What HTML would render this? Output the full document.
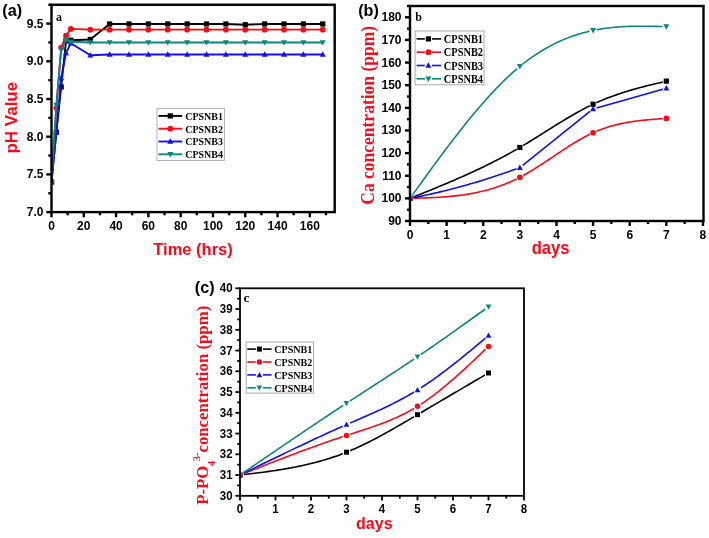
<!DOCTYPE html>
<html><head><meta charset="utf-8"><title>Charts</title>
<style>html,body{margin:0;padding:0;background:#fff;}body{width:709px;height:538px;overflow:hidden;}svg{display:block;will-change:transform;}</style>
</head><body>
<svg width="709" height="538" viewBox="0 0 709 538"><defs><clipPath id="cA"><rect x="51.5" y="4.75" width="283.2" height="207.35"/></clipPath><clipPath id="cB"><rect x="410" y="6" width="293.5" height="215"/></clipPath><mask id="m1" maskUnits="userSpaceOnUse" x="0" y="0" width="709" height="538"><rect width="709" height="538" fill="white"/><circle cx="410" cy="198.37" r="3.6" fill="black"/><circle cx="519.86" cy="147.45" r="3.6" fill="black"/><circle cx="593.09" cy="104.22" r="3.6" fill="black"/><circle cx="666.33" cy="81.14" r="3.6" fill="black"/></mask><mask id="m2" maskUnits="userSpaceOnUse" x="0" y="0" width="709" height="538"><rect width="709" height="538" fill="white"/><circle cx="410" cy="198.37" r="3.6" fill="black"/><circle cx="519.86" cy="177.32" r="3.6" fill="black"/><circle cx="593.09" cy="132.74" r="3.6" fill="black"/><circle cx="666.33" cy="118.48" r="3.6" fill="black"/></mask><mask id="m3" maskUnits="userSpaceOnUse" x="0" y="0" width="709" height="538"><rect width="709" height="538" fill="white"/><circle cx="410" cy="198.37" r="3.6" fill="black"/><circle cx="519.86" cy="167.59" r="3.6" fill="black"/><circle cx="593.09" cy="108.97" r="3.6" fill="black"/><circle cx="666.33" cy="88.15" r="3.6" fill="black"/></mask><mask id="m4" maskUnits="userSpaceOnUse" x="0" y="0" width="709" height="538"><rect width="709" height="538" fill="white"/><circle cx="410" cy="198.37" r="3.6" fill="black"/><circle cx="519.86" cy="66.43" r="3.6" fill="black"/><circle cx="593.09" cy="30.44" r="3.6" fill="black"/><circle cx="666.33" cy="26.59" r="3.6" fill="black"/></mask><clipPath id="cC"><rect x="240" y="288.3" width="284" height="207.5"/></clipPath><mask id="m5" maskUnits="userSpaceOnUse" x="0" y="0" width="709" height="538"><rect width="709" height="538" fill="white"/><circle cx="240" cy="475.05" r="4.0" fill="black"/><circle cx="346.5" cy="452.22" r="4.0" fill="black"/><circle cx="417.5" cy="414.67" r="4.0" fill="black"/><circle cx="488.5" cy="372.96" r="4.0" fill="black"/></mask><mask id="m6" maskUnits="userSpaceOnUse" x="0" y="0" width="709" height="538"><rect width="709" height="538" fill="white"/><circle cx="240" cy="475.05" r="4.0" fill="black"/><circle cx="346.5" cy="435.42" r="4.0" fill="black"/><circle cx="417.5" cy="406.37" r="4.0" fill="black"/><circle cx="488.5" cy="346.4" r="4.0" fill="black"/></mask><mask id="m7" maskUnits="userSpaceOnUse" x="0" y="0" width="709" height="538"><rect width="709" height="538" fill="white"/><circle cx="240" cy="475.05" r="4.0" fill="black"/><circle cx="346.5" cy="424.63" r="4.0" fill="black"/><circle cx="417.5" cy="389.97" r="4.0" fill="black"/><circle cx="488.5" cy="335.61" r="4.0" fill="black"/></mask><mask id="m8" maskUnits="userSpaceOnUse" x="0" y="0" width="709" height="538"><rect width="709" height="538" fill="white"/><circle cx="240" cy="475.05" r="4.0" fill="black"/><circle cx="346.5" cy="403.25" r="4.0" fill="black"/><circle cx="417.5" cy="356.77" r="4.0" fill="black"/><circle cx="488.5" cy="306.77" r="4.0" fill="black"/></mask></defs><line x1="48.3" y1="193.25" x2="51.5" y2="193.25" stroke="#000000" stroke-width="2.4" stroke-linecap="butt"/>
<line x1="48.3" y1="155.55" x2="51.5" y2="155.55" stroke="#000000" stroke-width="2.4" stroke-linecap="butt"/>
<line x1="48.3" y1="117.85" x2="51.5" y2="117.85" stroke="#000000" stroke-width="2.4" stroke-linecap="butt"/>
<line x1="48.3" y1="80.15" x2="51.5" y2="80.15" stroke="#000000" stroke-width="2.4" stroke-linecap="butt"/>
<line x1="48.3" y1="42.45" x2="51.5" y2="42.45" stroke="#000000" stroke-width="2.4" stroke-linecap="butt"/>
<line x1="48.3" y1="4.75" x2="51.5" y2="4.75" stroke="#000000" stroke-width="2.4" stroke-linecap="butt"/>
<line x1="46.3" y1="212.1" x2="51.5" y2="212.1" stroke="#000000" stroke-width="2.4" stroke-linecap="butt"/>
<text transform="translate(43.5,216.1) scale(1,1.07)" font-family="'Liberation Sans', sans-serif" font-size="12" font-weight="bold" fill="#000000" text-anchor="end">7.0</text>
<line x1="46.3" y1="174.4" x2="51.5" y2="174.4" stroke="#000000" stroke-width="2.4" stroke-linecap="butt"/>
<text transform="translate(43.5,178.4) scale(1,1.07)" font-family="'Liberation Sans', sans-serif" font-size="12" font-weight="bold" fill="#000000" text-anchor="end">7.5</text>
<line x1="46.3" y1="136.7" x2="51.5" y2="136.7" stroke="#000000" stroke-width="2.4" stroke-linecap="butt"/>
<text transform="translate(43.5,140.7) scale(1,1.07)" font-family="'Liberation Sans', sans-serif" font-size="12" font-weight="bold" fill="#000000" text-anchor="end">8.0</text>
<line x1="46.3" y1="99" x2="51.5" y2="99" stroke="#000000" stroke-width="2.4" stroke-linecap="butt"/>
<text transform="translate(43.5,103) scale(1,1.07)" font-family="'Liberation Sans', sans-serif" font-size="12" font-weight="bold" fill="#000000" text-anchor="end">8.5</text>
<line x1="46.3" y1="61.3" x2="51.5" y2="61.3" stroke="#000000" stroke-width="2.4" stroke-linecap="butt"/>
<text transform="translate(43.5,65.3) scale(1,1.07)" font-family="'Liberation Sans', sans-serif" font-size="12" font-weight="bold" fill="#000000" text-anchor="end">9.0</text>
<line x1="46.3" y1="23.6" x2="51.5" y2="23.6" stroke="#000000" stroke-width="2.4" stroke-linecap="butt"/>
<text transform="translate(43.5,27.6) scale(1,1.07)" font-family="'Liberation Sans', sans-serif" font-size="12" font-weight="bold" fill="#000000" text-anchor="end">9.5</text>
<line x1="67.65" y1="212.1" x2="67.65" y2="215.3" stroke="#000000" stroke-width="2.4" stroke-linecap="butt"/>
<line x1="99.94" y1="212.1" x2="99.94" y2="215.3" stroke="#000000" stroke-width="2.4" stroke-linecap="butt"/>
<line x1="132.23" y1="212.1" x2="132.23" y2="215.3" stroke="#000000" stroke-width="2.4" stroke-linecap="butt"/>
<line x1="164.52" y1="212.1" x2="164.52" y2="215.3" stroke="#000000" stroke-width="2.4" stroke-linecap="butt"/>
<line x1="196.81" y1="212.1" x2="196.81" y2="215.3" stroke="#000000" stroke-width="2.4" stroke-linecap="butt"/>
<line x1="229.11" y1="212.1" x2="229.11" y2="215.3" stroke="#000000" stroke-width="2.4" stroke-linecap="butt"/>
<line x1="261.4" y1="212.1" x2="261.4" y2="215.3" stroke="#000000" stroke-width="2.4" stroke-linecap="butt"/>
<line x1="293.69" y1="212.1" x2="293.69" y2="215.3" stroke="#000000" stroke-width="2.4" stroke-linecap="butt"/>
<line x1="325.98" y1="212.1" x2="325.98" y2="215.3" stroke="#000000" stroke-width="2.4" stroke-linecap="butt"/>
<line x1="51.5" y1="212.1" x2="51.5" y2="217.3" stroke="#000000" stroke-width="2.4" stroke-linecap="butt"/>
<text transform="translate(51.5,229.6) scale(1,1.07)" font-family="'Liberation Sans', sans-serif" font-size="12" font-weight="bold" fill="#000000" text-anchor="middle">0</text>
<line x1="83.79" y1="212.1" x2="83.79" y2="217.3" stroke="#000000" stroke-width="2.4" stroke-linecap="butt"/>
<text transform="translate(83.79,229.6) scale(1,1.07)" font-family="'Liberation Sans', sans-serif" font-size="12" font-weight="bold" fill="#000000" text-anchor="middle">20</text>
<line x1="116.08" y1="212.1" x2="116.08" y2="217.3" stroke="#000000" stroke-width="2.4" stroke-linecap="butt"/>
<text transform="translate(116.08,229.6) scale(1,1.07)" font-family="'Liberation Sans', sans-serif" font-size="12" font-weight="bold" fill="#000000" text-anchor="middle">40</text>
<line x1="148.38" y1="212.1" x2="148.38" y2="217.3" stroke="#000000" stroke-width="2.4" stroke-linecap="butt"/>
<text transform="translate(148.38,229.6) scale(1,1.07)" font-family="'Liberation Sans', sans-serif" font-size="12" font-weight="bold" fill="#000000" text-anchor="middle">60</text>
<line x1="180.67" y1="212.1" x2="180.67" y2="217.3" stroke="#000000" stroke-width="2.4" stroke-linecap="butt"/>
<text transform="translate(180.67,229.6) scale(1,1.07)" font-family="'Liberation Sans', sans-serif" font-size="12" font-weight="bold" fill="#000000" text-anchor="middle">80</text>
<line x1="212.96" y1="212.1" x2="212.96" y2="217.3" stroke="#000000" stroke-width="2.4" stroke-linecap="butt"/>
<text transform="translate(212.96,229.6) scale(1,1.07)" font-family="'Liberation Sans', sans-serif" font-size="12" font-weight="bold" fill="#000000" text-anchor="middle">100</text>
<line x1="245.25" y1="212.1" x2="245.25" y2="217.3" stroke="#000000" stroke-width="2.4" stroke-linecap="butt"/>
<text transform="translate(245.25,229.6) scale(1,1.07)" font-family="'Liberation Sans', sans-serif" font-size="12" font-weight="bold" fill="#000000" text-anchor="middle">120</text>
<line x1="277.54" y1="212.1" x2="277.54" y2="217.3" stroke="#000000" stroke-width="2.4" stroke-linecap="butt"/>
<text transform="translate(277.54,229.6) scale(1,1.07)" font-family="'Liberation Sans', sans-serif" font-size="12" font-weight="bold" fill="#000000" text-anchor="middle">140</text>
<line x1="309.84" y1="212.1" x2="309.84" y2="217.3" stroke="#000000" stroke-width="2.4" stroke-linecap="butt"/>
<text transform="translate(309.84,229.6) scale(1,1.07)" font-family="'Liberation Sans', sans-serif" font-size="12" font-weight="bold" fill="#000000" text-anchor="middle">160</text>
<g clip-path="url(#cA)">
<path d="M51.5,181.94L56.34,132.18L61.19,86.94L66.03,40.94L70.88,40.19L90.25,39.43L109.63,23.98L129,23.98L148.38,23.98L167.75,23.98L187.13,23.98L206.5,23.98L225.88,23.98L245.25,24.73L264.63,23.98L284,23.98L303.38,23.98L322.75,23.98" fill="none" stroke="#000000" stroke-width="1.9" stroke-linejoin="round"/>
<rect x="48.9" y="179.34" width="5.2" height="5.2" fill="#000000"/>
<rect x="53.74" y="129.58" width="5.2" height="5.2" fill="#000000"/>
<rect x="58.59" y="84.34" width="5.2" height="5.2" fill="#000000"/>
<rect x="63.43" y="38.34" width="5.2" height="5.2" fill="#000000"/>
<rect x="68.28" y="37.59" width="5.2" height="5.2" fill="#000000"/>
<rect x="87.65" y="36.83" width="5.2" height="5.2" fill="#000000"/>
<rect x="107.03" y="21.38" width="5.2" height="5.2" fill="#000000"/>
<rect x="126.4" y="21.38" width="5.2" height="5.2" fill="#000000"/>
<rect x="145.78" y="21.38" width="5.2" height="5.2" fill="#000000"/>
<rect x="165.15" y="21.38" width="5.2" height="5.2" fill="#000000"/>
<rect x="184.53" y="21.38" width="5.2" height="5.2" fill="#000000"/>
<rect x="203.9" y="21.38" width="5.2" height="5.2" fill="#000000"/>
<rect x="223.28" y="21.38" width="5.2" height="5.2" fill="#000000"/>
<rect x="242.65" y="22.13" width="5.2" height="5.2" fill="#000000"/>
<rect x="262.03" y="21.38" width="5.2" height="5.2" fill="#000000"/>
<rect x="281.4" y="21.38" width="5.2" height="5.2" fill="#000000"/>
<rect x="300.78" y="21.38" width="5.2" height="5.2" fill="#000000"/>
<rect x="320.15" y="21.38" width="5.2" height="5.2" fill="#000000"/>
<path d="M51.5,181.94L56.34,108.05L61.19,47.73L66.03,35.66L70.88,28.88L90.25,29.63L109.63,29.63L129,29.63L148.38,29.63L167.75,29.63L187.13,29.63L206.5,29.63L225.88,29.63L245.25,29.63L264.63,29.63L284,29.63L303.38,29.63L322.75,29.63" fill="none" stroke="#f80a16" stroke-width="1.9" stroke-linejoin="round"/>
<circle cx="51.5" cy="181.94" r="2.86" fill="#f80a16"/>
<circle cx="56.34" cy="108.05" r="2.86" fill="#f80a16"/>
<circle cx="61.19" cy="47.73" r="2.86" fill="#f80a16"/>
<circle cx="66.03" cy="35.66" r="2.86" fill="#f80a16"/>
<circle cx="70.88" cy="28.88" r="2.86" fill="#f80a16"/>
<circle cx="90.25" cy="29.63" r="2.86" fill="#f80a16"/>
<circle cx="109.63" cy="29.63" r="2.86" fill="#f80a16"/>
<circle cx="129" cy="29.63" r="2.86" fill="#f80a16"/>
<circle cx="148.38" cy="29.63" r="2.86" fill="#f80a16"/>
<circle cx="167.75" cy="29.63" r="2.86" fill="#f80a16"/>
<circle cx="187.13" cy="29.63" r="2.86" fill="#f80a16"/>
<circle cx="206.5" cy="29.63" r="2.86" fill="#f80a16"/>
<circle cx="225.88" cy="29.63" r="2.86" fill="#f80a16"/>
<circle cx="245.25" cy="29.63" r="2.86" fill="#f80a16"/>
<circle cx="264.63" cy="29.63" r="2.86" fill="#f80a16"/>
<circle cx="284" cy="29.63" r="2.86" fill="#f80a16"/>
<circle cx="303.38" cy="29.63" r="2.86" fill="#f80a16"/>
<circle cx="322.75" cy="29.63" r="2.86" fill="#f80a16"/>
<path d="M51.5,181.94L56.34,132.18L61.19,77.89L66.03,53.01L70.88,43.2L90.25,55.27L109.63,54.51L129,54.51L148.38,54.51L167.75,54.51L187.13,54.51L206.5,54.51L225.88,54.51L245.25,54.51L264.63,54.51L284,54.51L303.38,54.51L322.75,54.51" fill="none" stroke="#1010ee" stroke-width="1.9" stroke-linejoin="round"/>
<path d="M51.5,178.8L54.49,184.26L48.51,184.26Z" fill="#1010ee"/>
<path d="M56.34,129.04L59.33,134.5L53.35,134.5Z" fill="#1010ee"/>
<path d="M61.19,74.75L64.18,80.21L58.2,80.21Z" fill="#1010ee"/>
<path d="M66.03,49.87L69.02,55.33L63.04,55.33Z" fill="#1010ee"/>
<path d="M70.88,40.06L73.87,45.52L67.89,45.52Z" fill="#1010ee"/>
<path d="M90.25,52.13L93.24,57.59L87.26,57.59Z" fill="#1010ee"/>
<path d="M109.63,51.37L112.62,56.83L106.64,56.83Z" fill="#1010ee"/>
<path d="M129,51.37L131.99,56.83L126.01,56.83Z" fill="#1010ee"/>
<path d="M148.38,51.37L151.37,56.83L145.39,56.83Z" fill="#1010ee"/>
<path d="M167.75,51.37L170.74,56.83L164.76,56.83Z" fill="#1010ee"/>
<path d="M187.13,51.37L190.12,56.83L184.14,56.83Z" fill="#1010ee"/>
<path d="M206.5,51.37L209.49,56.83L203.51,56.83Z" fill="#1010ee"/>
<path d="M225.88,51.37L228.87,56.83L222.89,56.83Z" fill="#1010ee"/>
<path d="M245.25,51.37L248.24,56.83L242.26,56.83Z" fill="#1010ee"/>
<path d="M264.63,51.37L267.62,56.83L261.64,56.83Z" fill="#1010ee"/>
<path d="M284,51.37L286.99,56.83L281.01,56.83Z" fill="#1010ee"/>
<path d="M303.38,51.37L306.37,56.83L300.39,56.83Z" fill="#1010ee"/>
<path d="M322.75,51.37L325.74,56.83L319.76,56.83Z" fill="#1010ee"/>
<path d="M51.5,181.94L56.34,105.03L61.19,49.24L66.03,40.19L70.88,41.7L90.25,42.45L109.63,42.45L129,42.45L148.38,42.45L167.75,42.45L187.13,42.45L206.5,42.45L225.88,42.45L245.25,42.45L264.63,42.45L284,42.45L303.38,42.45L322.75,42.45" fill="none" stroke="#0a8582" stroke-width="1.9" stroke-linejoin="round"/>
<path d="M51.5,185.08L54.49,179.62L48.51,179.62Z" fill="#0a8582"/>
<path d="M56.34,108.17L59.33,102.71L53.35,102.71Z" fill="#0a8582"/>
<path d="M61.19,52.38L64.18,46.92L58.2,46.92Z" fill="#0a8582"/>
<path d="M66.03,43.33L69.02,37.87L63.04,37.87Z" fill="#0a8582"/>
<path d="M70.88,44.84L73.87,39.38L67.89,39.38Z" fill="#0a8582"/>
<path d="M90.25,45.59L93.24,40.13L87.26,40.13Z" fill="#0a8582"/>
<path d="M109.63,45.59L112.62,40.13L106.64,40.13Z" fill="#0a8582"/>
<path d="M129,45.59L131.99,40.13L126.01,40.13Z" fill="#0a8582"/>
<path d="M148.38,45.59L151.37,40.13L145.39,40.13Z" fill="#0a8582"/>
<path d="M167.75,45.59L170.74,40.13L164.76,40.13Z" fill="#0a8582"/>
<path d="M187.13,45.59L190.12,40.13L184.14,40.13Z" fill="#0a8582"/>
<path d="M206.5,45.59L209.49,40.13L203.51,40.13Z" fill="#0a8582"/>
<path d="M225.88,45.59L228.87,40.13L222.89,40.13Z" fill="#0a8582"/>
<path d="M245.25,45.59L248.24,40.13L242.26,40.13Z" fill="#0a8582"/>
<path d="M264.63,45.59L267.62,40.13L261.64,40.13Z" fill="#0a8582"/>
<path d="M284,45.59L286.99,40.13L281.01,40.13Z" fill="#0a8582"/>
<path d="M303.38,45.59L306.37,40.13L300.39,40.13Z" fill="#0a8582"/>
<path d="M322.75,45.59L325.74,40.13L319.76,40.13Z" fill="#0a8582"/>
</g>
<rect x="157" y="108.6" width="67.5" height="51.9" fill="white" stroke="#a8a8b8" stroke-width="0.9"/>
<line x1="158.5" y1="115.9" x2="182.2" y2="115.9" stroke="#000000" stroke-width="1.9" stroke-linecap="butt"/>
<rect x="167.7" y="113.3" width="5.2" height="5.2" fill="#000000"/>
<text transform="translate(185.2,119.72) scale(1,1.06)" font-family="'Liberation Serif', serif" font-size="10" font-weight="bold" fill="#000000" text-anchor="start">CPSNB1</text>
<line x1="158.5" y1="128.7" x2="182.2" y2="128.7" stroke="#f80a16" stroke-width="1.9" stroke-linecap="butt"/>
<circle cx="170.3" cy="128.7" r="2.86" fill="#f80a16"/>
<text transform="translate(185.2,132.52) scale(1,1.06)" font-family="'Liberation Serif', serif" font-size="10" font-weight="bold" fill="#000000" text-anchor="start">CPSNB2</text>
<line x1="158.5" y1="141.5" x2="182.2" y2="141.5" stroke="#1010ee" stroke-width="1.9" stroke-linecap="butt"/>
<path d="M170.3,138.36L173.29,143.82L167.31,143.82Z" fill="#1010ee"/>
<text transform="translate(185.2,145.32) scale(1,1.06)" font-family="'Liberation Serif', serif" font-size="10" font-weight="bold" fill="#000000" text-anchor="start">CPSNB3</text>
<line x1="158.5" y1="154.3" x2="182.2" y2="154.3" stroke="#0a8582" stroke-width="1.9" stroke-linecap="butt"/>
<path d="M170.3,157.44L173.29,151.98L167.31,151.98Z" fill="#0a8582"/>
<text transform="translate(185.2,158.12) scale(1,1.06)" font-family="'Liberation Serif', serif" font-size="10" font-weight="bold" fill="#000000" text-anchor="start">CPSNB4</text>
<rect x="51.5" y="4.75" width="283.2" height="207.35" fill="none" stroke="#000000" stroke-width="2.4" stroke-linejoin="miter"/>
<text x="56" y="20.8" font-family="'Liberation Serif', serif" font-size="12" font-weight="bold" fill="#000000" text-anchor="start" >a</text>
<text x="193" y="254.9" font-family="'Liberation Sans', sans-serif" font-size="16.5" font-weight="bold" fill="#f80a16" text-anchor="middle" >Time (hrs)</text>
<text x="0" y="0" font-family="'Liberation Sans', sans-serif" font-size="17" font-weight="bold" fill="#f80a16" text-anchor="middle" transform="translate(17.3,117.7) rotate(-90)">pH Value</text>
<text transform="translate(2.3,15.5) " font-family="'Liberation Sans', sans-serif" font-size="16.2" font-weight="bold" fill="#000">(a)</text>
<line x1="407" y1="209.68" x2="410" y2="209.68" stroke="#000000" stroke-width="2.4" stroke-linecap="butt"/>
<line x1="407" y1="187.05" x2="410" y2="187.05" stroke="#000000" stroke-width="2.4" stroke-linecap="butt"/>
<line x1="407" y1="164.42" x2="410" y2="164.42" stroke="#000000" stroke-width="2.4" stroke-linecap="butt"/>
<line x1="407" y1="141.79" x2="410" y2="141.79" stroke="#000000" stroke-width="2.4" stroke-linecap="butt"/>
<line x1="407" y1="119.16" x2="410" y2="119.16" stroke="#000000" stroke-width="2.4" stroke-linecap="butt"/>
<line x1="407" y1="96.53" x2="410" y2="96.53" stroke="#000000" stroke-width="2.4" stroke-linecap="butt"/>
<line x1="407" y1="73.89" x2="410" y2="73.89" stroke="#000000" stroke-width="2.4" stroke-linecap="butt"/>
<line x1="407" y1="51.26" x2="410" y2="51.26" stroke="#000000" stroke-width="2.4" stroke-linecap="butt"/>
<line x1="407" y1="28.63" x2="410" y2="28.63" stroke="#000000" stroke-width="2.4" stroke-linecap="butt"/>
<line x1="407" y1="6" x2="410" y2="6" stroke="#000000" stroke-width="2.4" stroke-linecap="butt"/>
<line x1="405" y1="221" x2="410" y2="221" stroke="#000000" stroke-width="2.4" stroke-linecap="butt"/>
<text transform="translate(401.5,225) scale(1,1.07)" font-family="'Liberation Sans', sans-serif" font-size="12" font-weight="bold" fill="#000000" text-anchor="end">90</text>
<line x1="405" y1="198.37" x2="410" y2="198.37" stroke="#000000" stroke-width="2.4" stroke-linecap="butt"/>
<text transform="translate(401.5,202.37) scale(1,1.07)" font-family="'Liberation Sans', sans-serif" font-size="12" font-weight="bold" fill="#000000" text-anchor="end">100</text>
<line x1="405" y1="175.74" x2="410" y2="175.74" stroke="#000000" stroke-width="2.4" stroke-linecap="butt"/>
<text transform="translate(401.5,179.74) scale(1,1.07)" font-family="'Liberation Sans', sans-serif" font-size="12" font-weight="bold" fill="#000000" text-anchor="end">110</text>
<line x1="405" y1="153.11" x2="410" y2="153.11" stroke="#000000" stroke-width="2.4" stroke-linecap="butt"/>
<text transform="translate(401.5,157.11) scale(1,1.07)" font-family="'Liberation Sans', sans-serif" font-size="12" font-weight="bold" fill="#000000" text-anchor="end">120</text>
<line x1="405" y1="130.47" x2="410" y2="130.47" stroke="#000000" stroke-width="2.4" stroke-linecap="butt"/>
<text transform="translate(401.5,134.47) scale(1,1.07)" font-family="'Liberation Sans', sans-serif" font-size="12" font-weight="bold" fill="#000000" text-anchor="end">130</text>
<line x1="405" y1="107.84" x2="410" y2="107.84" stroke="#000000" stroke-width="2.4" stroke-linecap="butt"/>
<text transform="translate(401.5,111.84) scale(1,1.07)" font-family="'Liberation Sans', sans-serif" font-size="12" font-weight="bold" fill="#000000" text-anchor="end">140</text>
<line x1="405" y1="85.21" x2="410" y2="85.21" stroke="#000000" stroke-width="2.4" stroke-linecap="butt"/>
<text transform="translate(401.5,89.21) scale(1,1.07)" font-family="'Liberation Sans', sans-serif" font-size="12" font-weight="bold" fill="#000000" text-anchor="end">150</text>
<line x1="405" y1="62.58" x2="410" y2="62.58" stroke="#000000" stroke-width="2.4" stroke-linecap="butt"/>
<text transform="translate(401.5,66.58) scale(1,1.07)" font-family="'Liberation Sans', sans-serif" font-size="12" font-weight="bold" fill="#000000" text-anchor="end">160</text>
<line x1="405" y1="39.95" x2="410" y2="39.95" stroke="#000000" stroke-width="2.4" stroke-linecap="butt"/>
<text transform="translate(401.5,43.95) scale(1,1.07)" font-family="'Liberation Sans', sans-serif" font-size="12" font-weight="bold" fill="#000000" text-anchor="end">170</text>
<line x1="405" y1="17.32" x2="410" y2="17.32" stroke="#000000" stroke-width="2.4" stroke-linecap="butt"/>
<text transform="translate(401.5,21.32) scale(1,1.07)" font-family="'Liberation Sans', sans-serif" font-size="12" font-weight="bold" fill="#000000" text-anchor="end">180</text>
<line x1="428.31" y1="221" x2="428.31" y2="224" stroke="#000000" stroke-width="2.4" stroke-linecap="butt"/>
<line x1="464.93" y1="221" x2="464.93" y2="224" stroke="#000000" stroke-width="2.4" stroke-linecap="butt"/>
<line x1="501.55" y1="221" x2="501.55" y2="224" stroke="#000000" stroke-width="2.4" stroke-linecap="butt"/>
<line x1="538.17" y1="221" x2="538.17" y2="224" stroke="#000000" stroke-width="2.4" stroke-linecap="butt"/>
<line x1="574.78" y1="221" x2="574.78" y2="224" stroke="#000000" stroke-width="2.4" stroke-linecap="butt"/>
<line x1="611.4" y1="221" x2="611.4" y2="224" stroke="#000000" stroke-width="2.4" stroke-linecap="butt"/>
<line x1="648.02" y1="221" x2="648.02" y2="224" stroke="#000000" stroke-width="2.4" stroke-linecap="butt"/>
<line x1="684.64" y1="221" x2="684.64" y2="224" stroke="#000000" stroke-width="2.4" stroke-linecap="butt"/>
<line x1="410" y1="221" x2="410" y2="226" stroke="#000000" stroke-width="2.4" stroke-linecap="butt"/>
<text transform="translate(410,238.8) scale(1,1.07)" font-family="'Liberation Sans', sans-serif" font-size="12" font-weight="bold" fill="#000000" text-anchor="middle">0</text>
<line x1="446.62" y1="221" x2="446.62" y2="226" stroke="#000000" stroke-width="2.4" stroke-linecap="butt"/>
<text transform="translate(446.62,238.8) scale(1,1.07)" font-family="'Liberation Sans', sans-serif" font-size="12" font-weight="bold" fill="#000000" text-anchor="middle">1</text>
<line x1="483.24" y1="221" x2="483.24" y2="226" stroke="#000000" stroke-width="2.4" stroke-linecap="butt"/>
<text transform="translate(483.24,238.8) scale(1,1.07)" font-family="'Liberation Sans', sans-serif" font-size="12" font-weight="bold" fill="#000000" text-anchor="middle">2</text>
<line x1="519.86" y1="221" x2="519.86" y2="226" stroke="#000000" stroke-width="2.4" stroke-linecap="butt"/>
<text transform="translate(519.86,238.8) scale(1,1.07)" font-family="'Liberation Sans', sans-serif" font-size="12" font-weight="bold" fill="#000000" text-anchor="middle">3</text>
<line x1="556.48" y1="221" x2="556.48" y2="226" stroke="#000000" stroke-width="2.4" stroke-linecap="butt"/>
<text transform="translate(556.48,238.8) scale(1,1.07)" font-family="'Liberation Sans', sans-serif" font-size="12" font-weight="bold" fill="#000000" text-anchor="middle">4</text>
<line x1="593.09" y1="221" x2="593.09" y2="226" stroke="#000000" stroke-width="2.4" stroke-linecap="butt"/>
<text transform="translate(593.09,238.8) scale(1,1.07)" font-family="'Liberation Sans', sans-serif" font-size="12" font-weight="bold" fill="#000000" text-anchor="middle">5</text>
<line x1="629.71" y1="221" x2="629.71" y2="226" stroke="#000000" stroke-width="2.4" stroke-linecap="butt"/>
<text transform="translate(629.71,238.8) scale(1,1.07)" font-family="'Liberation Sans', sans-serif" font-size="12" font-weight="bold" fill="#000000" text-anchor="middle">6</text>
<line x1="666.33" y1="221" x2="666.33" y2="226" stroke="#000000" stroke-width="2.4" stroke-linecap="butt"/>
<text transform="translate(666.33,238.8) scale(1,1.07)" font-family="'Liberation Sans', sans-serif" font-size="12" font-weight="bold" fill="#000000" text-anchor="middle">7</text>
<line x1="702.95" y1="221" x2="702.95" y2="226" stroke="#000000" stroke-width="2.4" stroke-linecap="butt"/>
<text transform="translate(702.95,238.8) scale(1,1.07)" font-family="'Liberation Sans', sans-serif" font-size="12" font-weight="bold" fill="#000000" text-anchor="middle">8</text>
<g clip-path="url(#cB)">
<path d="M410,198.37L412.15,197.5L414.31,196.64L416.46,195.77L418.62,194.9L420.77,194.03L422.92,193.16L425.08,192.29L427.23,191.42L429.39,190.54L431.54,189.66L433.69,188.78L435.85,187.89L438,187L440.16,186.11L442.31,185.21L444.46,184.31L446.62,183.4L448.77,182.49L450.93,181.57L453.08,180.65L455.24,179.72L457.39,178.78L459.54,177.84L461.7,176.89L463.85,175.93L466.01,174.97L468.16,173.99L470.31,173.01L472.47,172.02L474.62,171.02L476.78,170.02L478.93,169L481.08,167.97L483.24,166.93L485.39,165.88L487.55,164.83L489.7,163.76L491.85,162.67L494.01,161.58L496.16,160.48L498.32,159.36L500.47,158.23L502.62,157.09L504.78,155.93L506.93,154.76L509.09,153.58L511.24,152.38L513.39,151.17L515.55,149.95L517.7,148.7L519.86,147.45L522.01,146.18L524.16,144.89L526.32,143.59L528.47,142.28L530.63,140.96L532.78,139.63L534.93,138.29L537.09,136.95L539.24,135.6L541.4,134.25L543.55,132.89L545.71,131.54L547.86,130.18L550.01,128.83L552.17,127.48L554.32,126.13L556.48,124.79L558.63,123.46L560.78,122.14L562.94,120.82L565.09,119.52L567.25,118.23L569.4,116.95L571.55,115.69L573.71,114.45L575.86,113.22L578.02,112.02L580.17,110.83L582.32,109.67L584.48,108.52L586.63,107.41L588.79,106.32L590.94,105.26L593.09,104.22L595.25,103.22L597.4,102.24L599.56,101.29L601.71,100.37L603.86,99.48L606.02,98.61L608.17,97.77L610.33,96.95L612.48,96.16L614.63,95.38L616.79,94.63L618.94,93.9L621.1,93.18L623.25,92.49L625.4,91.81L627.56,91.15L629.71,90.51L631.87,89.88L634.02,89.26L636.18,88.66L638.33,88.07L640.48,87.5L642.64,86.93L644.79,86.37L646.95,85.82L649.1,85.28L651.25,84.75L653.41,84.22L655.56,83.7L657.72,83.18L659.87,82.67L662.02,82.16L664.18,81.65L666.33,81.14" fill="none" stroke="#000000" stroke-width="1.6" stroke-linejoin="round" mask="url(#m1)"/>
<rect x="407.4" y="195.77" width="5.2" height="5.2" fill="#000000"/>
<rect x="517.26" y="144.85" width="5.2" height="5.2" fill="#000000"/>
<rect x="590.49" y="101.62" width="5.2" height="5.2" fill="#000000"/>
<rect x="663.73" y="78.54" width="5.2" height="5.2" fill="#000000"/>
<path d="M410,198.37L412.15,198.31L414.31,198.25L416.46,198.19L418.62,198.13L420.77,198.06L422.92,197.99L425.08,197.91L427.23,197.83L429.39,197.74L431.54,197.65L433.69,197.54L435.85,197.43L438,197.31L440.16,197.18L442.31,197.03L444.46,196.87L446.62,196.7L448.77,196.52L450.93,196.32L453.08,196.11L455.24,195.88L457.39,195.63L459.54,195.37L461.7,195.08L463.85,194.78L466.01,194.45L468.16,194.11L470.31,193.74L472.47,193.35L474.62,192.94L476.78,192.5L478.93,192.03L481.08,191.54L483.24,191.03L485.39,190.48L487.55,189.91L489.7,189.31L491.85,188.67L494.01,188.01L496.16,187.31L498.32,186.58L500.47,185.82L502.62,185.03L504.78,184.19L506.93,183.33L509.09,182.42L511.24,181.48L513.39,180.5L515.55,179.48L517.7,178.42L519.86,177.32L522.01,176.18L524.16,175L526.32,173.78L528.47,172.53L530.63,171.25L532.78,169.94L534.93,168.61L537.09,167.25L539.24,165.87L541.4,164.48L543.55,163.06L545.71,161.64L547.86,160.21L550.01,158.77L552.17,157.33L554.32,155.89L556.48,154.44L558.63,153.01L560.78,151.57L562.94,150.15L565.09,148.74L567.25,147.35L569.4,145.97L571.55,144.61L573.71,143.28L575.86,141.97L578.02,140.69L580.17,139.44L582.32,138.22L584.48,137.04L586.63,135.9L588.79,134.8L590.94,133.74L593.09,132.74L595.25,131.78L597.4,130.87L599.56,130L601.71,129.19L603.86,128.41L606.02,127.68L608.17,126.99L610.33,126.34L612.48,125.72L614.63,125.15L616.79,124.61L618.94,124.1L621.1,123.62L623.25,123.18L625.4,122.76L627.56,122.37L629.71,122.01L631.87,121.68L634.02,121.36L636.18,121.07L638.33,120.8L640.48,120.55L642.64,120.31L644.79,120.1L646.95,119.89L649.1,119.7L651.25,119.52L653.41,119.36L655.56,119.2L657.72,119.04L659.87,118.9L662.02,118.76L664.18,118.62L666.33,118.48" fill="none" stroke="#f80a16" stroke-width="1.6" stroke-linejoin="round" mask="url(#m2)"/>
<circle cx="410" cy="198.37" r="2.86" fill="#f80a16"/>
<circle cx="519.86" cy="177.32" r="2.86" fill="#f80a16"/>
<circle cx="593.09" cy="132.74" r="2.86" fill="#f80a16"/>
<circle cx="666.33" cy="118.48" r="2.86" fill="#f80a16"/>
<path d="M410,198.37L413.79,197.64L417.58,196.89L421.36,196.11L425.15,195.31L428.94,194.48L432.73,193.63L436.52,192.76L440.31,191.87L444.09,190.95L447.88,190L451.67,189.04L455.46,188.05L459.25,187.03L463.03,186L466.82,184.93L470.61,183.85L474.4,182.74L478.19,181.61L481.97,180.45L485.76,179.27L489.55,178.07L493.34,176.84L497.13,175.59L500.92,174.32L504.7,173.02L508.49,171.7L512.28,170.35L516.07,168.98L519.86,167.59L593.09,108.97L666.33,88.15" fill="none" stroke="#1010ee" stroke-width="1.6" stroke-linejoin="round" mask="url(#m3)"/>
<path d="M410,195.23L412.99,200.69L407.01,200.69Z" fill="#1010ee"/>
<path d="M519.86,164.45L522.85,169.91L516.87,169.91Z" fill="#1010ee"/>
<path d="M593.09,105.83L596.08,111.29L590.1,111.29Z" fill="#1010ee"/>
<path d="M666.33,85.01L669.32,90.47L663.34,90.47Z" fill="#1010ee"/>
<path d="M410,198.37L412.15,195.37L414.31,192.38L416.46,189.39L418.62,186.4L420.77,183.41L422.92,180.43L425.08,177.46L427.23,174.49L429.39,171.53L431.54,168.57L433.69,165.63L435.85,162.7L438,159.78L440.16,156.87L442.31,153.97L444.46,151.09L446.62,148.22L448.77,145.37L450.93,142.54L453.08,139.72L455.24,136.92L457.39,134.14L459.54,131.39L461.7,128.65L463.85,125.94L466.01,123.25L468.16,120.59L470.31,117.95L472.47,115.33L474.62,112.75L476.78,110.19L478.93,107.66L481.08,105.16L483.24,102.7L485.39,100.26L487.55,97.86L489.7,95.49L491.85,93.16L494.01,90.86L496.16,88.6L498.32,86.38L500.47,84.19L502.62,82.05L504.78,79.94L506.93,77.88L509.09,75.86L511.24,73.88L513.39,71.95L515.55,70.06L517.7,68.22L519.86,66.43L522.01,64.68L524.16,62.98L526.32,61.33L528.47,59.72L530.63,58.16L532.78,56.65L534.93,55.18L537.09,53.75L539.24,52.37L541.4,51.03L543.55,49.73L545.71,48.48L547.86,47.27L550.01,46.09L552.17,44.96L554.32,43.87L556.48,42.82L558.63,41.81L560.78,40.83L562.94,39.89L565.09,38.99L567.25,38.13L569.4,37.31L571.55,36.51L573.71,35.76L575.86,35.04L578.02,34.35L580.17,33.69L582.32,33.07L584.48,32.48L586.63,31.93L588.79,31.4L590.94,30.91L593.09,30.44L595.25,30.01L597.4,29.6L599.56,29.22L601.71,28.87L603.86,28.55L606.02,28.25L608.17,27.97L610.33,27.72L612.48,27.49L614.63,27.28L616.79,27.1L618.94,26.93L621.1,26.79L623.25,26.66L625.4,26.55L627.56,26.45L629.71,26.37L631.87,26.31L634.02,26.26L636.18,26.22L638.33,26.2L640.48,26.18L642.64,26.18L644.79,26.19L646.95,26.2L649.1,26.23L651.25,26.26L653.41,26.3L655.56,26.34L657.72,26.38L659.87,26.43L662.02,26.49L664.18,26.54L666.33,26.59" fill="none" stroke="#0a8582" stroke-width="1.6" stroke-linejoin="round" mask="url(#m4)"/>
<path d="M410,201.51L412.99,196.05L407.01,196.05Z" fill="#0a8582"/>
<path d="M519.86,69.57L522.85,64.11L516.87,64.11Z" fill="#0a8582"/>
<path d="M593.09,33.58L596.08,28.12L590.1,28.12Z" fill="#0a8582"/>
<path d="M666.33,29.73L669.32,24.27L663.34,24.27Z" fill="#0a8582"/>
</g>
<rect x="415.1" y="31" width="68.9" height="53.8" fill="white" stroke="#a0a0a0" stroke-width="0.9"/>
<line x1="416.6" y1="38.9" x2="424.8" y2="38.9" stroke="#000000" stroke-width="1.6" stroke-linecap="butt"/>
<line x1="432" y1="38.9" x2="441.2" y2="38.9" stroke="#000000" stroke-width="1.6" stroke-linecap="butt"/>
<rect x="425.8" y="36.3" width="5.2" height="5.2" fill="#000000"/>
<text transform="translate(443.8,43.02) scale(1,1.1)" font-family="'Liberation Serif', serif" font-size="10.4" font-weight="bold" fill="#000000" text-anchor="start">CPSNB1</text>
<line x1="416.6" y1="52.2" x2="424.8" y2="52.2" stroke="#f80a16" stroke-width="1.6" stroke-linecap="butt"/>
<line x1="432" y1="52.2" x2="441.2" y2="52.2" stroke="#f80a16" stroke-width="1.6" stroke-linecap="butt"/>
<circle cx="428.4" cy="52.2" r="2.86" fill="#f80a16"/>
<text transform="translate(443.8,56.32) scale(1,1.1)" font-family="'Liberation Serif', serif" font-size="10.4" font-weight="bold" fill="#000000" text-anchor="start">CPSNB2</text>
<line x1="416.6" y1="65.5" x2="424.8" y2="65.5" stroke="#1010ee" stroke-width="1.6" stroke-linecap="butt"/>
<line x1="432" y1="65.5" x2="441.2" y2="65.5" stroke="#1010ee" stroke-width="1.6" stroke-linecap="butt"/>
<path d="M428.4,62.36L431.39,67.82L425.41,67.82Z" fill="#1010ee"/>
<text transform="translate(443.8,69.62) scale(1,1.1)" font-family="'Liberation Serif', serif" font-size="10.4" font-weight="bold" fill="#000000" text-anchor="start">CPSNB3</text>
<line x1="416.6" y1="78.8" x2="424.8" y2="78.8" stroke="#0a8582" stroke-width="1.6" stroke-linecap="butt"/>
<line x1="432" y1="78.8" x2="441.2" y2="78.8" stroke="#0a8582" stroke-width="1.6" stroke-linecap="butt"/>
<path d="M428.4,81.94L431.39,76.48L425.41,76.48Z" fill="#0a8582"/>
<text transform="translate(443.8,82.92) scale(1,1.1)" font-family="'Liberation Serif', serif" font-size="10.4" font-weight="bold" fill="#000000" text-anchor="start">CPSNB4</text>
<rect x="410" y="6" width="293.5" height="215" fill="none" stroke="#000000" stroke-width="2.4" stroke-linejoin="miter"/>
<text x="415.3" y="20.8" font-family="'Liberation Serif', serif" font-size="12" font-weight="bold" fill="#000000" text-anchor="start" >b</text>
<text transform="translate(550.6,253.8) scale(1,1.06)" font-family="'Liberation Sans', sans-serif" font-size="16.6" font-weight="bold" fill="#f80a16" text-anchor="middle">days</text>
<text x="0" y="0" font-family="'Liberation Serif', serif" font-size="17.5" font-weight="bold" fill="#f80a16" text-anchor="middle" transform="translate(373.7,115.3) rotate(-90) scale(1,1.05)">Ca concentration (ppm)</text>
<text transform="translate(358.2,15.5) " font-family="'Liberation Sans', sans-serif" font-size="16.2" font-weight="bold" fill="#000">(b)</text>
<line x1="237.2" y1="485.43" x2="240" y2="485.43" stroke="#000000" stroke-width="1.8" stroke-linecap="butt"/>
<line x1="237.2" y1="464.68" x2="240" y2="464.68" stroke="#000000" stroke-width="1.8" stroke-linecap="butt"/>
<line x1="237.2" y1="443.93" x2="240" y2="443.93" stroke="#000000" stroke-width="1.8" stroke-linecap="butt"/>
<line x1="237.2" y1="423.18" x2="240" y2="423.18" stroke="#000000" stroke-width="1.8" stroke-linecap="butt"/>
<line x1="237.2" y1="402.43" x2="240" y2="402.43" stroke="#000000" stroke-width="1.8" stroke-linecap="butt"/>
<line x1="237.2" y1="381.68" x2="240" y2="381.68" stroke="#000000" stroke-width="1.8" stroke-linecap="butt"/>
<line x1="237.2" y1="360.93" x2="240" y2="360.93" stroke="#000000" stroke-width="1.8" stroke-linecap="butt"/>
<line x1="237.2" y1="340.18" x2="240" y2="340.18" stroke="#000000" stroke-width="1.8" stroke-linecap="butt"/>
<line x1="237.2" y1="319.43" x2="240" y2="319.43" stroke="#000000" stroke-width="1.8" stroke-linecap="butt"/>
<line x1="237.2" y1="298.68" x2="240" y2="298.68" stroke="#000000" stroke-width="1.8" stroke-linecap="butt"/>
<line x1="235.4" y1="495.8" x2="240" y2="495.8" stroke="#000000" stroke-width="1.8" stroke-linecap="butt"/>
<text transform="translate(232.6,499.8) scale(1,1.07)" font-family="'Liberation Sans', sans-serif" font-size="11.5" font-weight="bold" fill="#000000" text-anchor="end">30</text>
<line x1="235.4" y1="475.05" x2="240" y2="475.05" stroke="#000000" stroke-width="1.8" stroke-linecap="butt"/>
<text transform="translate(232.6,479.05) scale(1,1.07)" font-family="'Liberation Sans', sans-serif" font-size="11.5" font-weight="bold" fill="#000000" text-anchor="end">31</text>
<line x1="235.4" y1="454.3" x2="240" y2="454.3" stroke="#000000" stroke-width="1.8" stroke-linecap="butt"/>
<text transform="translate(232.6,458.3) scale(1,1.07)" font-family="'Liberation Sans', sans-serif" font-size="11.5" font-weight="bold" fill="#000000" text-anchor="end">32</text>
<line x1="235.4" y1="433.55" x2="240" y2="433.55" stroke="#000000" stroke-width="1.8" stroke-linecap="butt"/>
<text transform="translate(232.6,437.55) scale(1,1.07)" font-family="'Liberation Sans', sans-serif" font-size="11.5" font-weight="bold" fill="#000000" text-anchor="end">33</text>
<line x1="235.4" y1="412.8" x2="240" y2="412.8" stroke="#000000" stroke-width="1.8" stroke-linecap="butt"/>
<text transform="translate(232.6,416.8) scale(1,1.07)" font-family="'Liberation Sans', sans-serif" font-size="11.5" font-weight="bold" fill="#000000" text-anchor="end">34</text>
<line x1="235.4" y1="392.05" x2="240" y2="392.05" stroke="#000000" stroke-width="1.8" stroke-linecap="butt"/>
<text transform="translate(232.6,396.05) scale(1,1.07)" font-family="'Liberation Sans', sans-serif" font-size="11.5" font-weight="bold" fill="#000000" text-anchor="end">35</text>
<line x1="235.4" y1="371.3" x2="240" y2="371.3" stroke="#000000" stroke-width="1.8" stroke-linecap="butt"/>
<text transform="translate(232.6,375.3) scale(1,1.07)" font-family="'Liberation Sans', sans-serif" font-size="11.5" font-weight="bold" fill="#000000" text-anchor="end">36</text>
<line x1="235.4" y1="350.55" x2="240" y2="350.55" stroke="#000000" stroke-width="1.8" stroke-linecap="butt"/>
<text transform="translate(232.6,354.55) scale(1,1.07)" font-family="'Liberation Sans', sans-serif" font-size="11.5" font-weight="bold" fill="#000000" text-anchor="end">37</text>
<line x1="235.4" y1="329.8" x2="240" y2="329.8" stroke="#000000" stroke-width="1.8" stroke-linecap="butt"/>
<text transform="translate(232.6,333.8) scale(1,1.07)" font-family="'Liberation Sans', sans-serif" font-size="11.5" font-weight="bold" fill="#000000" text-anchor="end">38</text>
<line x1="235.4" y1="309.05" x2="240" y2="309.05" stroke="#000000" stroke-width="1.8" stroke-linecap="butt"/>
<text transform="translate(232.6,313.05) scale(1,1.07)" font-family="'Liberation Sans', sans-serif" font-size="11.5" font-weight="bold" fill="#000000" text-anchor="end">39</text>
<line x1="235.4" y1="288.3" x2="240" y2="288.3" stroke="#000000" stroke-width="1.8" stroke-linecap="butt"/>
<text transform="translate(232.6,292.3) scale(1,1.07)" font-family="'Liberation Sans', sans-serif" font-size="11.5" font-weight="bold" fill="#000000" text-anchor="end">40</text>
<line x1="257.75" y1="495.8" x2="257.75" y2="498.6" stroke="#000000" stroke-width="1.8" stroke-linecap="butt"/>
<line x1="293.25" y1="495.8" x2="293.25" y2="498.6" stroke="#000000" stroke-width="1.8" stroke-linecap="butt"/>
<line x1="328.75" y1="495.8" x2="328.75" y2="498.6" stroke="#000000" stroke-width="1.8" stroke-linecap="butt"/>
<line x1="364.25" y1="495.8" x2="364.25" y2="498.6" stroke="#000000" stroke-width="1.8" stroke-linecap="butt"/>
<line x1="399.75" y1="495.8" x2="399.75" y2="498.6" stroke="#000000" stroke-width="1.8" stroke-linecap="butt"/>
<line x1="435.25" y1="495.8" x2="435.25" y2="498.6" stroke="#000000" stroke-width="1.8" stroke-linecap="butt"/>
<line x1="470.75" y1="495.8" x2="470.75" y2="498.6" stroke="#000000" stroke-width="1.8" stroke-linecap="butt"/>
<line x1="506.25" y1="495.8" x2="506.25" y2="498.6" stroke="#000000" stroke-width="1.8" stroke-linecap="butt"/>
<line x1="240" y1="495.8" x2="240" y2="500.4" stroke="#000000" stroke-width="1.8" stroke-linecap="butt"/>
<text transform="translate(240,512.5) scale(1,1.07)" font-family="'Liberation Sans', sans-serif" font-size="11.5" font-weight="bold" fill="#000000" text-anchor="middle">0</text>
<line x1="275.5" y1="495.8" x2="275.5" y2="500.4" stroke="#000000" stroke-width="1.8" stroke-linecap="butt"/>
<text transform="translate(275.5,512.5) scale(1,1.07)" font-family="'Liberation Sans', sans-serif" font-size="11.5" font-weight="bold" fill="#000000" text-anchor="middle">1</text>
<line x1="311" y1="495.8" x2="311" y2="500.4" stroke="#000000" stroke-width="1.8" stroke-linecap="butt"/>
<text transform="translate(311,512.5) scale(1,1.07)" font-family="'Liberation Sans', sans-serif" font-size="11.5" font-weight="bold" fill="#000000" text-anchor="middle">2</text>
<line x1="346.5" y1="495.8" x2="346.5" y2="500.4" stroke="#000000" stroke-width="1.8" stroke-linecap="butt"/>
<text transform="translate(346.5,512.5) scale(1,1.07)" font-family="'Liberation Sans', sans-serif" font-size="11.5" font-weight="bold" fill="#000000" text-anchor="middle">3</text>
<line x1="382" y1="495.8" x2="382" y2="500.4" stroke="#000000" stroke-width="1.8" stroke-linecap="butt"/>
<text transform="translate(382,512.5) scale(1,1.07)" font-family="'Liberation Sans', sans-serif" font-size="11.5" font-weight="bold" fill="#000000" text-anchor="middle">4</text>
<line x1="417.5" y1="495.8" x2="417.5" y2="500.4" stroke="#000000" stroke-width="1.8" stroke-linecap="butt"/>
<text transform="translate(417.5,512.5) scale(1,1.07)" font-family="'Liberation Sans', sans-serif" font-size="11.5" font-weight="bold" fill="#000000" text-anchor="middle">5</text>
<line x1="453" y1="495.8" x2="453" y2="500.4" stroke="#000000" stroke-width="1.8" stroke-linecap="butt"/>
<text transform="translate(453,512.5) scale(1,1.07)" font-family="'Liberation Sans', sans-serif" font-size="11.5" font-weight="bold" fill="#000000" text-anchor="middle">6</text>
<line x1="488.5" y1="495.8" x2="488.5" y2="500.4" stroke="#000000" stroke-width="1.8" stroke-linecap="butt"/>
<text transform="translate(488.5,512.5) scale(1,1.07)" font-family="'Liberation Sans', sans-serif" font-size="11.5" font-weight="bold" fill="#000000" text-anchor="middle">7</text>
<line x1="524" y1="495.8" x2="524" y2="500.4" stroke="#000000" stroke-width="1.8" stroke-linecap="butt"/>
<text transform="translate(524,512.5) scale(1,1.07)" font-family="'Liberation Sans', sans-serif" font-size="11.5" font-weight="bold" fill="#000000" text-anchor="middle">8</text>
<g clip-path="url(#cC)">
<path d="M240,475.05L242.09,474.8L244.18,474.55L246.26,474.3L248.35,474.05L250.44,473.79L252.53,473.54L254.62,473.28L256.71,473.01L258.79,472.75L260.88,472.48L262.97,472.2L265.06,471.92L267.15,471.64L269.24,471.35L271.32,471.05L273.41,470.74L275.5,470.43L277.59,470.11L279.68,469.78L281.76,469.45L283.85,469.1L285.94,468.75L288.03,468.38L290.12,468.01L292.21,467.62L294.29,467.22L296.38,466.81L298.47,466.39L300.56,465.95L302.65,465.51L304.74,465.04L306.82,464.57L308.91,464.08L311,463.57L313.09,463.05L315.18,462.51L317.26,461.96L319.35,461.39L321.44,460.8L323.53,460.19L325.62,459.57L327.71,458.93L329.79,458.27L331.88,457.58L333.97,456.88L336.06,456.16L338.15,455.42L340.24,454.65L342.32,453.87L344.41,453.06L346.5,452.22L348.59,451.37L350.68,450.49L352.76,449.59L354.85,448.67L356.94,447.73L359.03,446.77L361.12,445.79L363.21,444.79L365.29,443.78L367.38,442.74L369.47,441.7L371.56,440.63L373.65,439.55L375.74,438.46L377.82,437.35L379.91,436.23L382,435.1L384.09,433.95L386.18,432.8L388.26,431.63L390.35,430.46L392.44,429.28L394.53,428.09L396.62,426.89L398.71,425.68L400.79,424.47L402.88,423.26L404.97,422.04L407.06,420.82L409.15,419.59L411.24,418.36L413.32,417.13L415.41,415.9L417.5,414.67L419.59,413.44L421.68,412.21L423.76,410.97L425.85,409.74L427.94,408.51L430.03,407.29L432.12,406.06L434.21,404.83L436.29,403.6L438.38,402.37L440.47,401.14L442.56,399.92L444.65,398.69L446.74,397.46L448.82,396.23L450.91,395.01L453,393.78L455.09,392.56L457.18,391.33L459.26,390.11L461.35,388.88L463.44,387.65L465.53,386.43L467.62,385.2L469.71,383.98L471.79,382.75L473.88,381.53L475.97,380.31L478.06,379.08L480.15,377.86L482.24,376.63L484.32,375.41L486.41,374.18L488.5,372.96" fill="none" stroke="#000000" stroke-width="1.6" stroke-linejoin="round" mask="url(#m5)"/>
<rect x="237.5" y="472.55" width="5" height="5" fill="#000000"/>
<rect x="344" y="449.72" width="5" height="5" fill="#000000"/>
<rect x="415" y="412.17" width="5" height="5" fill="#000000"/>
<rect x="486" y="370.46" width="5" height="5" fill="#000000"/>
<path d="M240,475.05L242.09,474.23L244.18,473.4L246.26,472.58L248.35,471.75L250.44,470.93L252.53,470.11L254.62,469.28L256.71,468.46L258.79,467.64L260.88,466.82L262.97,466L265.06,465.19L267.15,464.37L269.24,463.56L271.32,462.74L273.41,461.93L275.5,461.12L277.59,460.32L279.68,459.51L281.76,458.71L283.85,457.9L285.94,457.11L288.03,456.31L290.12,455.51L292.21,454.72L294.29,453.93L296.38,453.15L298.47,452.36L300.56,451.58L302.65,450.81L304.74,450.03L306.82,449.26L308.91,448.5L311,447.73L313.09,446.97L315.18,446.22L317.26,445.47L319.35,444.72L321.44,443.98L323.53,443.24L325.62,442.5L327.71,441.77L329.79,441.05L331.88,440.32L333.97,439.61L336.06,438.9L338.15,438.19L340.24,437.49L342.32,436.79L344.41,436.1L346.5,435.42L348.59,434.74L350.68,434.06L352.76,433.39L354.85,432.72L356.94,432.05L359.03,431.37L361.12,430.7L363.21,430.02L365.29,429.33L367.38,428.64L369.47,427.94L371.56,427.23L373.65,426.51L375.74,425.78L377.82,425.03L379.91,424.27L382,423.49L384.09,422.69L386.18,421.88L388.26,421.04L390.35,420.18L392.44,419.3L394.53,418.39L396.62,417.46L398.71,416.49L400.79,415.5L402.88,414.48L404.97,413.43L407.06,412.34L409.15,411.22L411.24,410.07L413.32,408.87L415.41,407.64L417.5,406.37L419.59,405.05L421.68,403.7L423.76,402.31L425.85,400.88L427.94,399.41L430.03,397.9L432.12,396.37L434.21,394.8L436.29,393.2L438.38,391.56L440.47,389.9L442.56,388.21L444.65,386.49L446.74,384.75L448.82,382.98L450.91,381.19L453,379.38L455.09,377.55L457.18,375.7L459.26,373.83L461.35,371.94L463.44,370.04L465.53,368.12L467.62,366.19L469.71,364.24L471.79,362.29L473.88,360.32L475.97,358.35L478.06,356.37L480.15,354.38L482.24,352.39L484.32,350.4L486.41,348.4L488.5,346.4" fill="none" stroke="#f80a16" stroke-width="1.6" stroke-linejoin="round" mask="url(#m6)"/>
<circle cx="240" cy="475.05" r="2.75" fill="#f80a16"/>
<circle cx="346.5" cy="435.42" r="2.75" fill="#f80a16"/>
<circle cx="417.5" cy="406.37" r="2.75" fill="#f80a16"/>
<circle cx="488.5" cy="346.4" r="2.75" fill="#f80a16"/>
<path d="M240,475.05L242.09,474.03L244.18,473L246.26,471.98L248.35,470.95L250.44,469.93L252.53,468.9L254.62,467.88L256.71,466.86L258.79,465.84L260.88,464.82L262.97,463.8L265.06,462.78L267.15,461.76L269.24,460.74L271.32,459.72L273.41,458.71L275.5,457.7L277.59,456.68L279.68,455.67L281.76,454.66L283.85,453.66L285.94,452.65L288.03,451.65L290.12,450.65L292.21,449.65L294.29,448.65L296.38,447.65L298.47,446.66L300.56,445.67L302.65,444.68L304.74,443.69L306.82,442.71L308.91,441.73L311,440.75L313.09,439.78L315.18,438.8L317.26,437.84L319.35,436.87L321.44,435.91L323.53,434.95L325.62,433.99L327.71,433.04L329.79,432.09L331.88,431.14L333.97,430.2L336.06,429.26L338.15,428.33L340.24,427.4L342.32,426.47L344.41,425.55L346.5,424.63L348.59,423.71L350.68,422.8L352.76,421.89L354.85,420.99L356.94,420.08L359.03,419.17L361.12,418.26L363.21,417.35L365.29,416.44L367.38,415.52L369.47,414.6L371.56,413.68L373.65,412.74L375.74,411.8L377.82,410.85L379.91,409.89L382,408.92L384.09,407.94L386.18,406.94L388.26,405.94L390.35,404.92L392.44,403.88L394.53,402.83L396.62,401.76L398.71,400.68L400.79,399.58L402.88,398.45L404.97,397.31L407.06,396.15L409.15,394.96L411.24,393.75L413.32,392.52L415.41,391.26L417.5,389.97L419.59,388.66L421.68,387.33L423.76,385.97L425.85,384.58L427.94,383.17L430.03,381.74L432.12,380.29L434.21,378.81L436.29,377.32L438.38,375.8L440.47,374.27L442.56,372.72L444.65,371.15L446.74,369.56L448.82,367.96L450.91,366.35L453,364.72L455.09,363.07L457.18,361.42L459.26,359.75L461.35,358.07L463.44,356.38L465.53,354.69L467.62,352.98L469.71,351.26L471.79,349.54L473.88,347.81L475.97,346.08L478.06,344.34L480.15,342.6L482.24,340.86L484.32,339.11L486.41,337.36L488.5,335.61" fill="none" stroke="#1010ee" stroke-width="1.6" stroke-linejoin="round" mask="url(#m7)"/>
<path d="M240,472.03L242.88,477.28L237.12,477.28Z" fill="#1010ee"/>
<path d="M346.5,421.61L349.38,426.86L343.62,426.86Z" fill="#1010ee"/>
<path d="M417.5,386.96L420.38,392.21L414.62,392.21Z" fill="#1010ee"/>
<path d="M488.5,332.59L491.38,337.84L485.62,337.84Z" fill="#1010ee"/>
<path d="M240,475.05L242.09,473.62L244.18,472.19L246.26,470.76L248.35,469.34L250.44,467.91L252.53,466.48L254.62,465.05L256.71,463.62L258.79,462.2L260.88,460.77L262.97,459.34L265.06,457.92L267.15,456.49L269.24,455.07L271.32,453.65L273.41,452.22L275.5,450.8L277.59,449.38L279.68,447.96L281.76,446.54L283.85,445.12L285.94,443.7L288.03,442.29L290.12,440.87L292.21,439.46L294.29,438.04L296.38,436.63L298.47,435.22L300.56,433.81L302.65,432.4L304.74,431L306.82,429.59L308.91,428.19L311,426.79L313.09,425.39L315.18,423.99L317.26,422.59L319.35,421.2L321.44,419.81L323.53,418.42L325.62,417.03L327.71,415.64L329.79,414.26L331.88,412.87L333.97,411.49L336.06,410.11L338.15,408.74L340.24,407.36L342.32,405.99L344.41,404.62L346.5,403.25L348.59,401.89L350.68,400.53L352.76,399.17L354.85,397.81L356.94,396.45L359.03,395.1L361.12,393.74L363.21,392.39L365.29,391.04L367.38,389.68L369.47,388.33L371.56,386.98L373.65,385.63L375.74,384.28L377.82,382.92L379.91,381.57L382,380.21L384.09,378.85L386.18,377.5L388.26,376.14L390.35,374.77L392.44,373.41L394.53,372.04L396.62,370.67L398.71,369.3L400.79,367.92L402.88,366.54L404.97,365.16L407.06,363.77L409.15,362.38L411.24,360.99L413.32,359.59L415.41,358.18L417.5,356.77L419.59,355.36L421.68,353.94L423.76,352.52L425.85,351.09L427.94,349.65L430.03,348.22L432.12,346.77L434.21,345.33L436.29,343.88L438.38,342.42L440.47,340.96L442.56,339.5L444.65,338.04L446.74,336.57L448.82,335.1L450.91,333.62L453,332.15L455.09,330.67L457.18,329.19L459.26,327.7L461.35,326.21L463.44,324.73L465.53,323.24L467.62,321.74L469.71,320.25L471.79,318.76L473.88,317.26L475.97,315.76L478.06,314.27L480.15,312.77L482.24,311.27L484.32,309.77L486.41,308.27L488.5,306.77" fill="none" stroke="#0a8582" stroke-width="1.6" stroke-linejoin="round" mask="url(#m8)"/>
<path d="M240,478.07L242.88,472.82L237.12,472.82Z" fill="#0a8582"/>
<path d="M346.5,406.27L349.38,401.02L343.62,401.02Z" fill="#0a8582"/>
<path d="M417.5,359.79L420.38,354.54L414.62,354.54Z" fill="#0a8582"/>
<path d="M488.5,309.79L491.38,304.54L485.62,304.54Z" fill="#0a8582"/>
</g>
<rect x="246.2" y="342" width="67.4" height="51.1" fill="white" stroke="#a0a0a0" stroke-width="0.9"/>
<line x1="247.3" y1="349.1" x2="255.8" y2="349.1" stroke="#000000" stroke-width="1.6" stroke-linecap="butt"/>
<line x1="263" y1="349.1" x2="271.6" y2="349.1" stroke="#000000" stroke-width="1.6" stroke-linecap="butt"/>
<rect x="256.9" y="346.6" width="5" height="5" fill="#000000"/>
<text transform="translate(274.2,353.1) scale(1,1.1)" font-family="'Liberation Serif', serif" font-size="10.1" font-weight="bold" fill="#000000" text-anchor="start">CPSNB1</text>
<line x1="247.3" y1="362" x2="255.8" y2="362" stroke="#f80a16" stroke-width="1.6" stroke-linecap="butt"/>
<line x1="263" y1="362" x2="271.6" y2="362" stroke="#f80a16" stroke-width="1.6" stroke-linecap="butt"/>
<circle cx="259.4" cy="362" r="2.75" fill="#f80a16"/>
<text transform="translate(274.2,366) scale(1,1.1)" font-family="'Liberation Serif', serif" font-size="10.1" font-weight="bold" fill="#000000" text-anchor="start">CPSNB2</text>
<line x1="247.3" y1="374.9" x2="255.8" y2="374.9" stroke="#1010ee" stroke-width="1.6" stroke-linecap="butt"/>
<line x1="263" y1="374.9" x2="271.6" y2="374.9" stroke="#1010ee" stroke-width="1.6" stroke-linecap="butt"/>
<path d="M259.4,371.88L262.27,377.13L256.52,377.13Z" fill="#1010ee"/>
<text transform="translate(274.2,378.9) scale(1,1.1)" font-family="'Liberation Serif', serif" font-size="10.1" font-weight="bold" fill="#000000" text-anchor="start">CPSNB3</text>
<line x1="247.3" y1="387.8" x2="255.8" y2="387.8" stroke="#0a8582" stroke-width="1.6" stroke-linecap="butt"/>
<line x1="263" y1="387.8" x2="271.6" y2="387.8" stroke="#0a8582" stroke-width="1.6" stroke-linecap="butt"/>
<path d="M259.4,390.82L262.27,385.57L256.52,385.57Z" fill="#0a8582"/>
<text transform="translate(274.2,391.8) scale(1,1.1)" font-family="'Liberation Serif', serif" font-size="10.1" font-weight="bold" fill="#000000" text-anchor="start">CPSNB4</text>
<rect x="240" y="288.3" width="284" height="207.5" fill="none" stroke="#000000" stroke-width="1.8" stroke-linejoin="miter"/>
<text x="243.6" y="302.2" font-family="'Liberation Serif', serif" font-size="13.5" font-weight="bold" fill="#000000" text-anchor="start" >c</text>
<text transform="translate(374.3,528.5) scale(1,1.05)" font-family="'Liberation Sans', sans-serif" font-size="16" font-weight="bold" fill="#f80a16" text-anchor="middle">days</text>
<text font-family="'Liberation Serif', serif" font-size="16.8" font-weight="bold" fill="#f80a16" transform="translate(208.4,504.8) rotate(-90)">P-PO<tspan font-size="9.5" dy="6.3">4</tspan><tspan font-size="10" dy="-15">3-</tspan><tspan dy="8.7">concentration (ppm)</tspan></text>
<text transform="translate(194.8,293) " font-family="'Liberation Sans', sans-serif" font-size="16.2" font-weight="bold" fill="#000">(c)</text></svg>
</body></html>
